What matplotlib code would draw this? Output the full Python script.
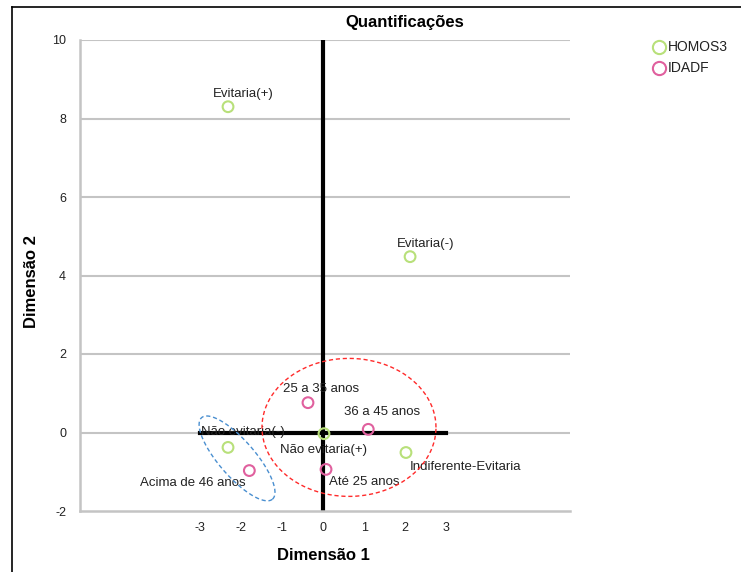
import matplotlib
matplotlib.use('Agg')
import matplotlib.pyplot as plt
import numpy as np

plt.rcParams['font.family'] = ['Liberation Sans', 'DejaVu Sans']
plt.rcParams['axes.unicode_minus'] = False

# HOMOS3 category quantifications
homos_labels = ['Evitaria(+)', 'Evitaria(-)', 'Não evitaria(-)', 'Não evitaria(+)', 'Indiferente-Evitaria']
homos_x = [-2.32, 2.12, -2.32, 0.02, 2.02]
homos_y = [8.30, 4.48, -0.38, -0.03, -0.51]

# IDADF category quantifications
idade_labels = ['25 a 35 anos', '36 a 45 anos', 'Até 25 anos', 'Acima de 46 anos']
idade_x = [-0.37, 1.10, 0.07, -1.80]
idade_y = [0.76, 0.08, -0.94, -0.97]

GREEN = '#b8e07a'
PINK = '#e0609e'
GRID = '#c4c4c4'

W, H = 741, 572
fig = plt.figure(figsize=(W / 100, H / 100), dpi=100)
fig.patch.set_facecolor('white')

# frame of the embedded picture
fig.add_artist(plt.Line2D([12 / W, 12 / W], [0, 1 - 7 / H], color='black', lw=1.2))
fig.add_artist(plt.Line2D([12 / W, 1], [1 - 7 / H, 1 - 7 / H], color='black', lw=1.2))

L, R, T, B = 80, 570, 40, 511
ax = fig.add_axes([L / W, 1 - B / H, (R - L) / W, (B - T) / H])
ax.set_xlim(-5.93, 6.02)
ax.set_ylim(-2, 10)

for s in ['top', 'right']:
    ax.spines[s].set_visible(False)
for s in ['left', 'bottom']:
    ax.spines[s].set_color(GRID)
    ax.spines[s].set_linewidth(1.8)

for yv in [0, 2, 4, 6, 8, 10]:
    ax.axhline(yv, color=GRID, lw=1.5, zorder=0)

ax.set_yticks([-2, 0, 2, 4, 6, 8, 10])
ax.set_xticks([-3, -2, -1, 0, 1, 2, 3])
ax.tick_params(length=0, labelsize=9, colors='#222222')
ax.tick_params(axis='x', pad=8)
ax.tick_params(axis='y', pad=10)

# reference axes lines
ax.plot([0, 0], [-2, 10], color='black', lw=3, zorder=2)
ax.plot([-3, 3], [0, 0], color='black', lw=3, zorder=2)

ax.scatter(homos_x, homos_y, s=60, facecolors='none', edgecolors=GREEN, linewidths=1.5, zorder=4)
ax.scatter(idade_x, idade_y, s=60, facecolors='none', edgecolors=PINK, linewidths=1.5, zorder=4)

fs = 9.5
tc = '#222222'
ax.text(homos_x[0] + 0.37, homos_y[0] + 0.33, homos_labels[0], ha='center', va='center', fontsize=fs, color=tc)
ax.text(homos_x[1] + 0.37, homos_y[1] + 0.33, homos_labels[1], ha='center', va='center', fontsize=fs, color=tc)
ax.text(homos_x[2] + 0.35, homos_y[2] + 0.38, homos_labels[2], ha='center', va='center', fontsize=fs, color=tc)
ax.text(homos_x[3], homos_y[3] - 0.42, homos_labels[3], ha='center', va='center', fontsize=fs, color=tc)
ax.text(homos_x[4] + 0.08, homos_y[4] - 0.36, homos_labels[4], ha='left', va='center', fontsize=fs, color=tc)
ax.text(idade_x[0] + 0.33, idade_y[0] + 0.36, idade_labels[0], ha='center', va='center', fontsize=fs, color=tc)
ax.text(idade_x[1] + 0.34, idade_y[1] + 0.45, idade_labels[1], ha='center', va='center', fontsize=fs, color=tc)
ax.text(idade_x[2] + 0.08, idade_y[2] - 0.32, idade_labels[2], ha='left', va='center', fontsize=fs, color=tc)
ax.text(idade_x[3] - 0.08, idade_y[3] - 0.32, idade_labels[3], ha='right', va='center', fontsize=fs, color=tc)

# dashed ellipses (drawn in pixel space, converted to data)
sx, sy = 41.0, 39.25


def ellipse(cx, cy, a, b, ang, color):
    t = np.linspace(0, 2 * np.pi, 200)
    th = np.deg2rad(ang)
    px = a * np.cos(t) * np.cos(th) - b * np.sin(t) * np.sin(th)
    py = a * np.cos(t) * np.sin(th) + b * np.sin(t) * np.cos(th)
    ax.plot(cx + px / sx, cy + py / sy, color=color, lw=1, ls=(0, (3, 2)), zorder=3)


ellipse(0.63, 0.13, 87, 69, 0, '#ff2a2a')
ellipse(-2.1, -0.66, 54, 18, -49, '#4a8fd0')

fig.text(405 / W, 1 - 22 / H, 'Quantificações', ha='center', va='center', fontsize=12, fontweight='bold')
fig.text(323 / W, 1 - 555 / H, 'Dimensão 1', ha='center', va='center', fontsize=12, fontweight='bold')
fig.text(31 / W, 1 - 282 / H, 'Dimensão 2', ha='center', va='center', fontsize=12, fontweight='bold', rotation=90)

# legend
for yy, lab, col in [(47, 'HOMOS3', GREEN), (68, 'IDADF', PINK)]:
    fig.add_artist(plt.Line2D([659 / W], [1 - yy / H], marker='o', ms=9.5, mfc='none', mec=col, mew=1.5, ls='none'))
    fig.text(668 / W, 1 - yy / H, lab, ha='left', va='center', fontsize=10, color='#222222')

fig.savefig('out.png', dpi=100, facecolor='white')
